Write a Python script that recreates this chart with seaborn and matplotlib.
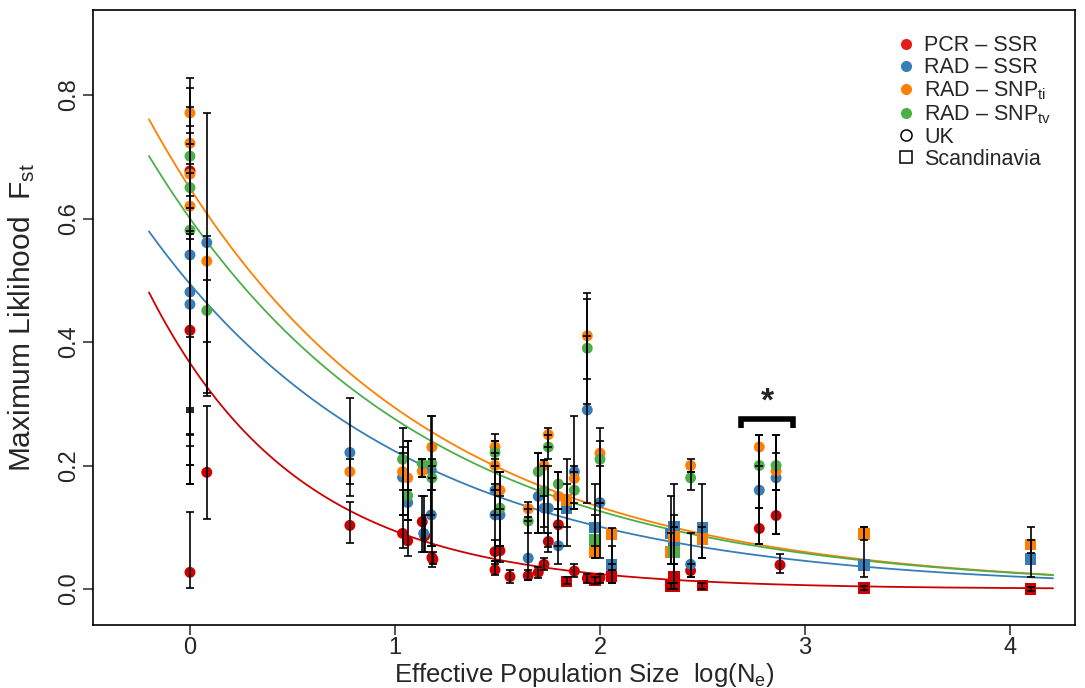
import numpy as np
import pandas as pd
import matplotlib
matplotlib.use("Agg")
import matplotlib.pyplot as plt
import seaborn as sns
from matplotlib.lines import Line2D

# ---------------- data ----------------
# each series: x = log(Ne), y = ML Fst, lo/hi = error-bar limits, reg = 'UK' or 'Scandinavia'
pcr_x  = [0, 0, 0, 0.082, 0.78, 1.037, 1.062, 1.133, 1.145, 1.18, 1.185, 1.488, 1.488, 1.512, 1.561,
          1.65, 1.699, 1.727, 1.748, 1.797, 1.875, 1.938, 2.0, 2.442, 2.777, 2.859, 2.878,
          1.837, 1.976, 2.057, 2.345, 2.361, 2.361, 2.5, 3.288, 4.1]
pcr_y  = [0.677, 0.419, 0.027, 0.189, 0.103, 0.09, 0.078, 0.109, 0.086, 0.051, 0.048, 0.0605, 0.031, 0.062, 0.02,
          0.0216, 0.027, 0.04, 0.077, 0.104, 0.029, 0.0173, 0.018, 0.0297, 0.098, 0.119, 0.039,
          0.0119, 0.0146, 0.021, 0.005, 0.019, 0.0046, 0.0054, 0.002, 0.0]
pcr_lo = [0.17, 0.201, 0.002, 0.114, 0.075, 0.066, 0.054, 0.06, 0.06, 0.036, 0.04, 0.045, 0.023, 0.043, 0.01,
          0.0146, 0.018, 0.03, 0.06, 0.07, 0.02, 0.01, 0.01, 0.02, 0.073, 0.0886, 0.026,
          0.008, 0.008, 0.01, 0.0, 0.0, 0.0, 0.0, -0.002, -0.003]
pcr_hi = [0.75, 0.567, 0.125, 0.296, 0.141, 0.12, 0.112, 0.15, 0.12, 0.07, 0.06, 0.08, 0.045, 0.07, 0.03,
          0.03, 0.035, 0.05, 0.09, 0.13, 0.04, 0.025, 0.025, 0.04, 0.131, 0.16, 0.057,
          0.02, 0.02, 0.03, 0.01, 0.04, 0.01, 0.01, 0.005, 0.004]
pcr_reg = ['UK'] * 27 + ['Scandinavia'] * 9

rssr_x  = [0, 0, 0, 0.082, 0.78, 1.037, 1.062, 1.14, 1.177, 1.177, 1.488, 1.488, 1.512, 1.65, 1.699,
           1.727, 1.748, 1.797, 1.875, 1.938, 2.0, 2.442, 2.777, 2.859,
           1.837, 1.976, 2.057, 2.345, 2.361, 2.361, 2.5, 3.288, 4.1]
rssr_y  = [0.541, 0.481, 0.461, 0.561, 0.221, 0.181, 0.14, 0.09, 0.193, 0.12, 0.16, 0.12, 0.12, 0.05, 0.15,
           0.131, 0.131, 0.07, 0.19, 0.29, 0.14, 0.04, 0.16, 0.18,
           0.131, 0.0993, 0.039, 0.09, 0.101, 0.07, 0.0993, 0.039, 0.049]
rssr_lo = [0.408, 0.17, 0.251, 0.40, 0.15, 0.12, 0.112, 0.06, 0.12, 0.07, 0.12, 0.04, 0.07, 0.015, 0.09,
           0.09, 0.068, 0.04, 0.13, 0.14, 0.05, 0.02, 0.073, 0.0886,
           0.07, 0.05, 0.01, 0.04, 0.04, 0.0, 0.05, 0.02, 0.02]
rssr_hi = [0.636, 0.617, 0.575, 0.771, 0.31, 0.23, 0.16, 0.15, 0.28, 0.16, 0.22, 0.17, 0.15, 0.116, 0.22,
           0.209, 0.2, 0.1, 0.28, 0.41, 0.2, 0.09, 0.25, 0.25,
           0.17, 0.17, 0.07, 0.15, 0.17, 0.12, 0.17, 0.1, 0.079]
rssr_reg = ['UK'] * 24 + ['Scandinavia'] * 9

ti_x  = [0, 0, 0, 0, 0.082, 0.78, 1.037, 1.062, 1.133, 1.18, 1.488, 1.488, 1.512, 1.65, 1.727,
         1.748, 1.797, 1.875, 1.938, 2.0, 2.442, 2.777, 2.859,
         1.837, 1.976, 2.057, 2.345, 2.361, 2.5, 3.288, 4.1]
ti_y  = [0.771, 0.722, 0.672, 0.62, 0.531, 0.19, 0.19, 0.18, 0.191, 0.23, 0.23, 0.2, 0.16, 0.13, 0.2,
         0.25, 0.15, 0.179, 0.41, 0.22, 0.2, 0.23, 0.191,
         0.144, 0.06, 0.0886, 0.06, 0.085, 0.0805, 0.089, 0.072]
ti_lo = [0.58, 0.29, 0.232, 0.201, 0.317, 0.17, 0.16, 0.16, 0.181, 0.18, 0.21, 0.16, 0.13, 0.11, 0.15,
         0.23, 0.1, 0.14, 0.34, 0.14, 0.19, 0.2, 0.16,
         0.1, 0.05, 0.04, 0.04, 0.04, 0.05, 0.079, 0.059]
ti_hi = [0.827, 0.812, 0.739, 0.689, 0.571, 0.21, 0.22, 0.24, 0.21, 0.28, 0.251, 0.24, 0.19, 0.141, 0.209,
         0.26, 0.19, 0.2, 0.48, 0.26, 0.21, 0.25, 0.22,
         0.21, 0.07, 0.099, 0.09, 0.1, 0.1, 0.1, 0.1]
ti_reg = ['UK'] * 23 + ['Scandinavia'] * 8

tv_x  = [0, 0, 0, 0.082, 1.037, 1.062, 1.133, 1.18, 1.18, 1.488, 1.512, 1.65, 1.699, 1.727, 1.748,
         1.797, 1.875, 1.938, 2.0, 2.442, 2.777, 2.859,
         1.976, 2.361]
tv_y  = [0.701, 0.65, 0.581, 0.451, 0.21, 0.151, 0.203, 0.203, 0.18, 0.221, 0.131, 0.11, 0.19, 0.159, 0.23,
         0.17, 0.16, 0.39, 0.21, 0.18, 0.2, 0.2,
         0.079, 0.06]
tv_lo = [0.25, 0.286, 0.293, 0.312, 0.12, 0.112, 0.181, 0.16, 0.07, 0.2, 0.07, 0.09, 0.09, 0.1, 0.21,
         0.13, 0.13, 0.30, 0.14, 0.16, 0.131, 0.16,
         0.05, 0.01]
tv_hi = [0.781, 0.72, 0.673, 0.50, 0.26, 0.24, 0.21, 0.21, 0.2, 0.24, 0.19, 0.13, 0.22, 0.2, 0.25,
         0.19, 0.19, 0.47, 0.24, 0.19, 0.25, 0.25,
         0.12, 0.1]
tv_reg = ['UK'] * 22 + ['Scandinavia'] * 2

# fitted exponential decay curves  Fst = a * exp(-b * logNe)
curve_a = {'PCR-SSR': 0.366, 'RAD-SSR': 0.494, 'RAD-SNPti': 0.649, 'RAD-SNPtv': 0.600}
curve_b = {'PCR-SSR': 1.36, 'RAD-SSR': 0.795, 'RAD-SNPti': 0.794, 'RAD-SNPtv': 0.780}
curve_range = (-0.2, 4.21)

marker_types = ['PCR-SSR', 'RAD-SSR', 'RAD-SNPti', 'RAD-SNPtv']
legend_labels = ['PCR \u2013 SSR', 'RAD \u2013 SSR',
                 'RAD \u2013 SNP$_{\\mathregular{ti}}$', 'RAD \u2013 SNP$_{\\mathregular{tv}}$']
point_colors = {'PCR-SSR': '#CD0000', 'RAD-SSR': '#377EB8', 'RAD-SNPti': '#FF7F00', 'RAD-SNPtv': '#4DAF4A'}
legend_colors = ['#E41A1C', '#377EB8', '#FF7F00', '#4DAF4A']

# ---------------- build table ----------------
frames = []
for name, xs, ys, los, his, regs in [
        ('PCR-SSR', pcr_x, pcr_y, pcr_lo, pcr_hi, pcr_reg),
        ('RAD-SSR', rssr_x, rssr_y, rssr_lo, rssr_hi, rssr_reg),
        ('RAD-SNPti', ti_x, ti_y, ti_lo, ti_hi, ti_reg),
        ('RAD-SNPtv', tv_x, tv_y, tv_lo, tv_hi, tv_reg)]:
    frames.append(pd.DataFrame({'x': xs, 'fst': ys, 'lo': los, 'hi': his,
                                'region': regs, 'marker': name}))
df = pd.concat(frames, ignore_index=True)

# ---------------- style ----------------
sns.set_theme(style='ticks')
plt.rcParams['font.family'] = ['Liberation Sans', 'DejaVu Sans']
plt.rcParams['mathtext.fontset'] = 'custom'
plt.rcParams['mathtext.rm'] = 'Liberation Sans'
plt.rcParams['mathtext.it'] = 'Liberation Sans:italic'

fig = plt.figure(figsize=(10.85, 6.88), dpi=100)
ax = fig.add_axes([93 / 1085, 1 - 625 / 688, (1075 - 93) / 1085, (625 - 10) / 688])

# curves
for name in marker_types:
    xx = np.linspace(curve_range[0], curve_range[1], 300)
    yy = curve_a[name] * np.exp(-curve_b[name] * xx)
    sns.lineplot(x=xx, y=yy, ax=ax, color=point_colors[name], lw=1.3, zorder=2, legend=False)

# points
sns.scatterplot(data=df[df.region == 'UK'], x='x', y='fst', hue='marker', palette=point_colors,
                marker='o', s=62, edgecolor='none', linewidth=0, ax=ax, legend=False, zorder=3)
sns.scatterplot(data=df[df.region == 'Scandinavia'], x='x', y='fst', hue='marker', palette=point_colors,
                marker='s', s=70, edgecolor='none', linewidth=0, ax=ax, legend=False, zorder=3)

# error bars
ax.errorbar(df['x'], df['fst'], yerr=[df['fst'] - df['lo'], df['hi'] - df['fst']],
            fmt='none', ecolor='black', elinewidth=1.4, capsize=3.2, capthick=1.4,
            alpha=0.85, zorder=4)

# significance bracket
bx0, bx1, by, bleg = 2.686, 2.943, 0.275, 0.261
ax.plot([bx0, bx0, bx1, bx1], [bleg, by, by, bleg], color='black', lw=4, solid_capstyle='butt',
        solid_joinstyle='miter', zorder=5)
ax.text((bx0 + bx1) / 2, by + 0.002, '*', ha='center', va='bottom', fontsize=24, fontweight='bold')

# axes
ax.set_xlim(-0.473, 4.317)
ax.set_ylim(-0.0583, 0.9377)
ax.set_xticks([0, 1, 2, 3, 4])
ax.set_yticks([0.0, 0.2, 0.4, 0.6, 0.8])
ax.set_yticklabels(['0.0', '0.2', '0.4', '0.6', '0.8'], rotation=90, va='center')
ax.tick_params(axis='both', labelsize=17, length=7, width=1.1, direction='out', pad=2)
for sp in ax.spines.values():
    sp.set_linewidth(1.2)
    sp.set_color('black')
ax.set_xlabel('Effective Population Size  log(N$_{\\mathregular{e}}$)', fontsize=18.5, va='center')
ax.xaxis.set_label_coords(0.5, -(675 - 625) / 615)
ax.set_ylabel('Maximum Liklihood  F$_{\\mathregular{st}}$', fontsize=21.5, va='center')
ax.yaxis.set_label_coords(-(93 - 22) / 982, 0.5)

# legend
handles = [Line2D([], [], marker='o', ls='none', color=c, markersize=8, markeredgewidth=0)
           for c in legend_colors]
handles += [Line2D([], [], marker='o', ls='none', markerfacecolor='none', markeredgecolor='black',
                   markersize=8, markeredgewidth=1.1),
            Line2D([], [], marker='s', ls='none', markerfacecolor='none', markeredgecolor='black',
                   markersize=8, markeredgewidth=1.1)]
labels = legend_labels + ['UK', 'Scandinavia']
ax.legend(handles, labels, loc='upper left', bbox_to_anchor=(0.806, 0.973), frameon=False,
          fontsize=15.5, handletextpad=0.25, labelspacing=0.05, borderaxespad=0, handlelength=1.2)

fig.savefig('out.png', dpi=100)
